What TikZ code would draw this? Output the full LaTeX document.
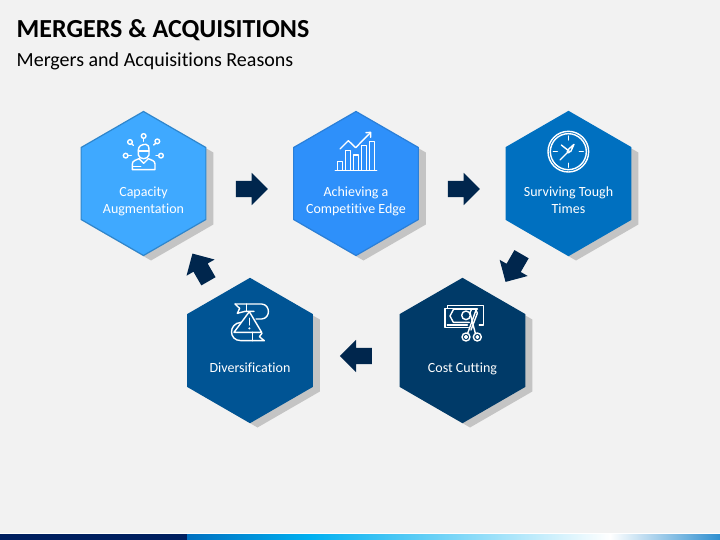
\documentclass[tikz,border=0pt]{standalone}
\usepackage{fontspec}
\setmainfont{Carlito}[Ligatures=NoCommon]
\usetikzlibrary{shapes.geometric,shapes.arrows,shadows}
\definecolor{bgc}{HTML}{F2F2F2}
\definecolor{shc}{HTML}{C4C4C4}
\definecolor{arrc}{HTML}{00264D}
\definecolor{hexa}{HTML}{3FA9FF}
\definecolor{hexas}{HTML}{2F86CC}
\definecolor{hexb}{HTML}{2E90FA}
\definecolor{hexbs}{HTML}{2A7FD8}
\definecolor{hexc}{HTML}{0070C0}
\definecolor{hexd}{HTML}{005494}
\definecolor{hexe}{HTML}{003A68}
\definecolor{bara}{HTML}{002060}
\definecolor{barb}{HTML}{0070C0}
\definecolor{barc}{HTML}{00B0F0}
\definecolor{bard}{HTML}{2E8FD0}
\tikzset{
  hexnode/.style={regular polygon,regular polygon sides=6,shape border rotate=30,minimum size=144pt,inner sep=0pt,outer sep=0pt,line width=1.2pt,
    drop shadow={shadow xshift=7.5pt,shadow yshift=-5pt,opacity=1,fill=shc}},
  hexlabel/.style={text=white,align=center,font=\fontsize{14}{17}\selectfont,inner sep=0pt},
  blockarrow/.style={single arrow,single arrow tip angle=90,single arrow head extend=8pt,minimum width=32pt,minimum height=32pt,inner sep=8pt,outer sep=0pt,fill=arrc,draw=none},
  iconline/.style={draw=white,line width=1.4pt,line join=round,line cap=round},
  icon/.style={scale=1/3,iconline}
}
\begin{document}
\begin{tikzpicture}[x=1pt,y=-1pt]
\useasboundingbox (0,0) rectangle (720,540);
\fill[bgc] (0,0) rectangle (720,540);
% titles
\node[anchor=base west,inner sep=0pt,font=\fontsize{26}{30}\selectfont\bfseries] (title) at (16.5,37.5) {MERGERS \& ACQUISITIONS};
\node[anchor=base west,inner sep=0pt,font=\fontsize{20}{24}\selectfont] (subtitle) at (16.5,66.7) {Mergers and Acquisitions Reasons};
% bottom bar
\fill[white] (0,533) rectangle (720,534);
\fill[bara] (0,534) rectangle (187,540);
\shade[left color=barb,right color=barc] (187,534) rectangle (310,540);
\shade[left color=barc,right color=white] (310,534) rectangle (610,540);
\shade[left color=white,right color=bard] (610,534) rectangle (720,540);
% hexagons
\node[hexnode,fill=hexa,draw=hexas] (h1) at (143.5,183.5) {};
\node[hexnode,fill=hexb,draw=hexbs] (h2) at (356,183.5) {};
\node[hexnode,fill=hexc,draw=hexc] (h3) at (568.5,183.5) {};
\node[hexnode,fill=hexe,draw=hexe] (h5) at (462.5,350.5) {};
\node[hexnode,fill=hexd,draw=hexd] (h4) at (250,350.5) {};
% labels
\node[hexlabel] (l1) at (143.5,201.7) {\strut Capacity\\Augmentation\strut};
\node[hexlabel] (l2) at (356,201.7) {\strut Achieving a\\Competitive Edge\strut};
\node[hexlabel] (l3) at (568.5,201.7) {\strut Surviving Tough\\Times\strut};
\node[hexlabel,anchor=base] (l4) at (250,372) {Diversification};
\node[hexlabel,anchor=base] (l5) at (462.5,372) {Cost Cutting};
% arrows
\node[blockarrow] (a12) at (247.7,189) {};
\node[blockarrow] (a23) at (459.8,189) {};
\node[blockarrow,rotate=-120] (a35) at (515.6,264.5) {};
\node[blockarrow,rotate=180] (a54) at (360,356) {};
\node[blockarrow,rotate=120] (a41) at (202.5,271) {};
% icon 1: person
\begin{scope}[shift={(70,100)},icon]
\draw (205,150) .. controls (205,138) and (215,133) .. (228,133) .. controls (234,133) and (237,140) .. (237,150) -- (237,165) .. controls (235,172) and (228,176) .. (221,176) .. controls (213,176) and (207,172) .. (205,165) -- cycle;
\draw (205,153) -- (237,153);
\draw (207,176) .. controls (198,180) and (187,182) .. (187,192) -- (187,209) -- (255,209) -- (255,192) .. controls (255,182) and (244,180) .. (235,176);
\draw (207,176) -- (221,190) -- (235,176);
\draw (190,200) -- (212,200);
\draw (221,108) circle (7); \draw (221,115) -- (221,124);
\draw (180,126) circle (7); \draw (185,131) -- (190,136);
\draw (262,124) circle (7); \draw (257,130) -- (251,135);
\draw (167,167) circle (7); \draw (174,167) -- (184,167);
\draw (273,167) circle (7); \draw (258,167) -- (266,167);
\end{scope}
% icon 2: chart
\begin{scope}[shift={(290,100)},icon]
\draw (136,212) -- (260,212);
\draw (142,212) rectangle (158,185);
\draw (166,212) rectangle (182,152);
\draw (190,212) rectangle (206,165);
\draw (214,212) rectangle (230,137);
\draw (238,212) rectangle (254,125);
\draw (150,147) -- (175,122) -- (197,143) -- (241,98);
\draw (228,98) -- (242,97) -- (242,112);
\end{scope}
% icon 3: clock
\begin{scope}[shift={(500,100)},icon]
\draw (205,155) circle (61);
\draw (205,155) circle (54);
\draw (205,108) -- (205,120); \draw (205,190) -- (205,202);
\draw (160,155) -- (172,155); \draw (238,155) -- (250,155);
\draw (180,180) -- (202,158);
\draw (184,135) -- (203,150) -- (222,133) -- (212,155);
\draw (205,155) circle (4);
\end{scope}
% icon 4: ribbons and warning
\begin{scope}[shift={(180,270)},icon]
\draw (165,102) -- (245,102) .. controls (272,104) and (272,145) .. (245,147) -- (228,147);
\draw (165,102) -- (179,115) -- (172,130) -- (195,124) -- (222,124);
\draw (200,102) -- (200,124);
\draw (208,125) -- (162,187) -- (245,187) -- cycle;
\draw (208,145) -- (208,165);
\fill[white,draw=none] (208,175) circle (3.5);
\draw (183,157) .. controls (145,160) and (145,212) .. (183,212) -- (253,212) -- (238,200) -- (246,190);
\draw (218,187) -- (218,212);
\end{scope}
% icon 5: money and scissors
\begin{scope}[shift={(390,240)},icon]
\draw (172,205) -- (172,197) -- (280,197) -- (280,255) -- (268,255);
\draw (235,263) -- (165,263) -- (165,205) -- (262,205);
\draw (172,255) -- (232,255);
\draw (190,209) -- (180,228) -- (190,247) -- (238,247);
\draw (190,209) -- (262,209);
\draw (228,226) circle (13);
\draw (228,291) circle (12);
\draw (228,291) circle (4);
\draw (262,291) circle (12);
\draw (262,291) circle (4);
\draw (233,280) -- (258,210) -- (262,220) -- (243,270);
\draw (256,280) -- (240,218) -- (244,210);
\end{scope}
\end{tikzpicture}
\end{document}
